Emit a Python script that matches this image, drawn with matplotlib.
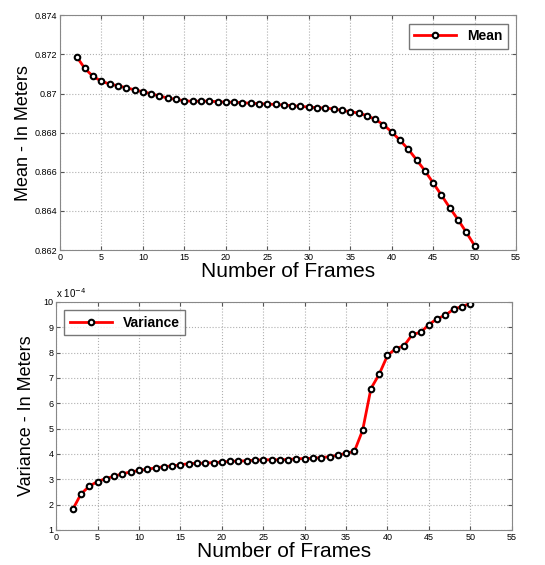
import matplotlib
matplotlib.use("Agg")
import matplotlib.pyplot as plt
from matplotlib.ticker import FuncFormatter

# datos
frames = list(range(2, 51))

mean_vals = [0.87189, 0.87128, 0.87087, 0.87063, 0.87048, 0.87040, 0.87029, 0.87019,
             0.87009, 0.86999, 0.86987, 0.86977, 0.86970, 0.86963, 0.86960, 0.86961,
             0.86961, 0.86958, 0.86956, 0.86955, 0.86953, 0.86950, 0.86948, 0.86946,
             0.86944, 0.86941, 0.86938, 0.86934, 0.86931, 0.86927, 0.86926, 0.86921,
             0.86914, 0.86907, 0.86900, 0.86887, 0.86868, 0.86841, 0.86803, 0.86761,
             0.86715, 0.86661, 0.86605, 0.86543, 0.86480, 0.86416, 0.86355, 0.86290,
             0.86222]

# varianza en unidades de 1e-4
var_e4 = [1.81, 2.42, 2.73, 2.91, 3.03, 3.12, 3.22, 3.29, 3.35, 3.40, 3.45, 3.50,
          3.53, 3.57, 3.62, 3.63, 3.64, 3.66, 3.68, 3.71, 3.72, 3.73, 3.76, 3.77,
          3.77, 3.77, 3.78, 3.81, 3.82, 3.83, 3.86, 3.89, 3.95, 4.03, 4.10, 4.94,
          6.58, 7.15, 7.89, 8.16, 8.27, 8.72, 8.80, 9.11, 9.34, 9.48, 9.72, 9.82,
          9.94]

x_ticks = list(range(0, 56, 5))
mean_ticks = [0.862, 0.864, 0.866, 0.868, 0.870, 0.872, 0.874]
var_ticks = list(range(1, 11))

plt.rcParams['font.family'] = ['Liberation Sans', 'DejaVu Sans']

fig = plt.figure(figsize=(5.45, 5.65), dpi=100)
ax1 = fig.add_axes([0.110, 0.5575, 0.837, 0.4155])
ax2 = fig.add_axes([0.103, 0.062, 0.836, 0.4035])

estilo = dict(color='red', lw=2, marker='o', markersize=4, markerfacecolor='white',
              markeredgecolor='black', markeredgewidth=1.5)


def formato_ejes(ax):
    ax.set_xlim(0, 55)
    ax.set_xticks(x_ticks)
    ax.grid(True, linestyle=':', color='#b0b0b0', linewidth=0.8)
    ax.tick_params(direction='in', labelsize=6.5, length=3, colors='#555555',
                   labelcolor='black', top=True, right=True, pad=2)
    for s in ax.spines.values():
        s.set_color('#888888')
    ax.yaxis.set_major_formatter(FuncFormatter(lambda v, p: '%g' % round(v, 4)))


# Grafica de la media
ax1.plot(frames, mean_vals, label='Mean', **estilo)
ax1.set_ylim(0.862, 0.874)
ax1.set_yticks(mean_ticks)
formato_ejes(ax1)
ax1.set_xlabel('Number of Frames', fontsize=15, labelpad=0)
ax1.set_ylabel('Mean - In Meters', fontsize=13, labelpad=2)
leg1 = ax1.legend(loc='upper right', prop={'weight': 'bold', 'size': 10}, fancybox=False,
                  handlelength=3, borderaxespad=0.6)
leg1.get_frame().set_edgecolor('#555555')

# Grafica de la varianza
ax2.plot(frames, var_e4, label='Variance', **estilo)
ax2.set_ylim(1, 10)
ax2.set_yticks(var_ticks)
formato_ejes(ax2)
ax2.set_xlabel('Number of Frames', fontsize=15, labelpad=0)
ax2.set_ylabel('Variance - In Meters', fontsize=13, labelpad=6)
ax2.text(0, 1.008, r'x 10$^{-4}$', transform=ax2.transAxes, fontsize=7, va='bottom')
leg2 = ax2.legend(loc='upper left', prop={'weight': 'bold', 'size': 10}, fancybox=False,
                  handlelength=3, borderaxespad=0.6)
leg2.get_frame().set_edgecolor('#555555')

fig.savefig('out.png', dpi=100)
